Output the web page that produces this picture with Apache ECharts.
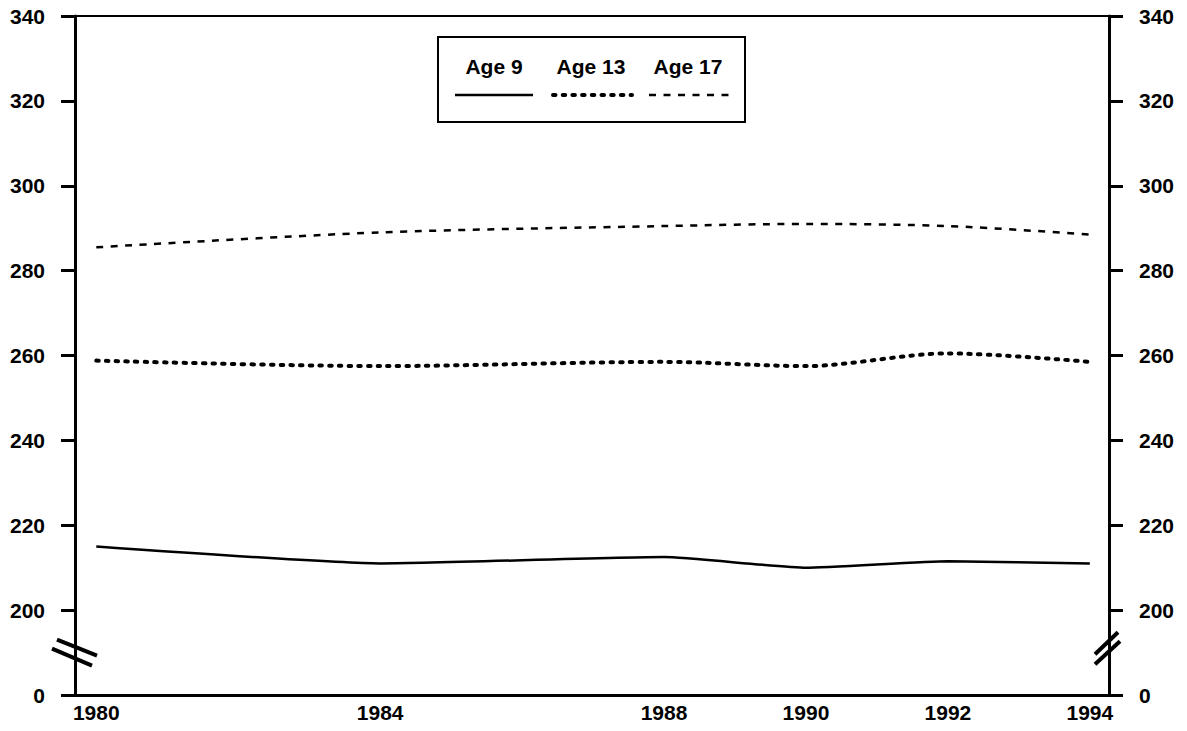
<!DOCTYPE html>
<html>
<head>
<meta charset="utf-8">
<script src="https://cdn.jsdelivr.net/npm/echarts@6/dist/echarts.min.js"></script>
<style>
  html, body { margin: 0; padding: 0; background: #fff; }
  #chart { width: 1187px; height: 731px; }
</style>
</head>
<body>
<div id="chart"></div>
<script>
// data
const years = [1980, 1984, 1988, 1990, 1992, 1994]
const age9 = [215, 211, 212.5, 210, 211.5, 211]
const age13 = [258.8, 257.5, 258.5, 257.5, 260.5, 258.5]
const age17 = [285.5, 289, 290.5, 291, 290.5, 288.5]
const seriesNames = ['Age 9', 'Age 13', 'Age 17']
const xLabels = [1980, 1984, 1988, 1990, 1992, 1994]

// y axis is broken: the bottom tick stands for 0
const yMin = 180
const yMax = 340
const yStep = 20
const xMin = 1979.7
const xMax = 1994.27
// where the break marks sit on each y axis (x, y, side)
const breakMarks = [[xMin, 190, 0], [xMax, 191, 1]]

const font = 'Liberation Sans, Arial, Helvetica, sans-serif'
const chart = echarts.init(document.getElementById('chart'), null, { renderer: 'svg' })

const toPoints = (vals) => years.map((y, i) => [y, vals[i]])

const labelStyle = {
  color: '#000',
  fontSize: 21,
  fontWeight: 'bold',
  fontFamily: font,
}

const yAxisBase = {
  type: 'value',
  min: yMin,
  max: yMax,
  interval: yStep,
  splitLine: { show: false },
  axisLine: { show: true, lineStyle: { color: '#000', width: 3 } },
  axisTick: { show: true, length: 14, lineStyle: { color: '#000', width: 3 } },
  axisLabel: Object.assign({}, labelStyle, {
    margin: 30,
    formatter: (v) => (v === yMin ? '0' : String(v)),
  }),
}

// break marks, offsets from the anchor point in px
const breakShapes = [
  [[-18, -13, 22, 3], [-23, -4, 17, 13]],
  [[-14, 6, 9, -16], [-14, 16, 11, -7]],
]

const legendFont = 'bold 21px ' + font

const option = {
  animation: false,
  backgroundColor: '#fff',
  grid: { left: 75, right: 78, top: 16, bottom: 36 },
  xAxis: [
    {
      type: 'value',
      min: xMin,
      max: xMax,
      splitLine: { show: false },
      axisLine: { lineStyle: { color: '#000', width: 3 } },
      axisTick: { show: false },
      axisLabel: Object.assign({}, labelStyle, {
        customValues: xLabels,
        margin: 7,
        formatter: (v) => String(v),
      }),
    },
    {
      type: 'value',
      position: 'top',
      min: xMin,
      max: xMax,
      splitLine: { show: false },
      axisLine: { show: true, lineStyle: { color: '#000', width: 2 } },
      axisTick: { show: false },
      axisLabel: { show: false },
    },
  ],
  yAxis: [
    Object.assign({}, yAxisBase, { position: 'left' }),
    Object.assign({}, yAxisBase, { position: 'right' }),
  ],
  series: [
    {
      name: seriesNames[0],
      type: 'line',
      data: toPoints(age9),
      showSymbol: false,
      smooth: 0.15,
      lineStyle: { color: '#000', width: 2.5 },
    },
    {
      name: seriesNames[1],
      type: 'line',
      data: toPoints(age13),
      showSymbol: false,
      smooth: 0.3,
      lineStyle: { color: '#000', width: 4, type: [2.5, 7.2], cap: 'round' },
    },
    {
      name: seriesNames[2],
      type: 'line',
      data: toPoints(age17),
      showSymbol: false,
      smooth: 0.3,
      lineStyle: { color: '#000', width: 2.5, type: [7, 7.5] },
    },
    {
      type: 'custom',
      clip: false,
      silent: true,
      data: breakMarks,
      renderItem: (params, api) => {
        const p = api.coord([api.value(0), api.value(1)])
        const shapes = breakShapes[api.value(2)]
        return {
          type: 'group',
          children: shapes.map((s) => ({
            type: 'line',
            shape: { x1: p[0] + s[0], y1: p[1] + s[1], x2: p[0] + s[2], y2: p[1] + s[3] },
            style: { stroke: '#000', lineWidth: 4 },
          })),
        }
      },
    },
  ],
  // legend is drawn by hand: names on top, line samples below
  graphic: [
    {
      type: 'group',
      left: 437,
      top: 36,
      children: [
        {
          type: 'rect',
          shape: { x: 0, y: 0, width: 307, height: 85 },
          style: { fill: '#fff', stroke: '#000', lineWidth: 2 },
        },
        {
          type: 'text',
          x: 56, y: 29,
          style: { text: seriesNames[0], fill: '#000', font: legendFont, align: 'center', verticalAlign: 'middle' },
        },
        {
          type: 'text',
          x: 153, y: 29,
          style: { text: seriesNames[1], fill: '#000', font: legendFont, align: 'center', verticalAlign: 'middle' },
        },
        {
          type: 'text',
          x: 250, y: 29,
          style: { text: seriesNames[2], fill: '#000', font: legendFont, align: 'center', verticalAlign: 'middle' },
        },
        {
          type: 'line',
          shape: { x1: 17, y1: 58, x2: 95, y2: 58 },
          style: { stroke: '#000', lineWidth: 2.5 },
        },
        {
          type: 'line',
          shape: { x1: 115, y1: 58, x2: 194, y2: 58 },
          style: { stroke: '#000', lineWidth: 4, lineDash: [2.5, 7.2], lineCap: 'round' },
        },
        {
          type: 'line',
          shape: { x1: 211, y1: 58, x2: 292, y2: 58 },
          style: { stroke: '#000', lineWidth: 2.5, lineDash: [7, 7.5] },
        },
      ],
    },
  ],
}

chart.setOption(option)
window.addEventListener('resize', () => chart.resize())
</script>
</body>
</html>
